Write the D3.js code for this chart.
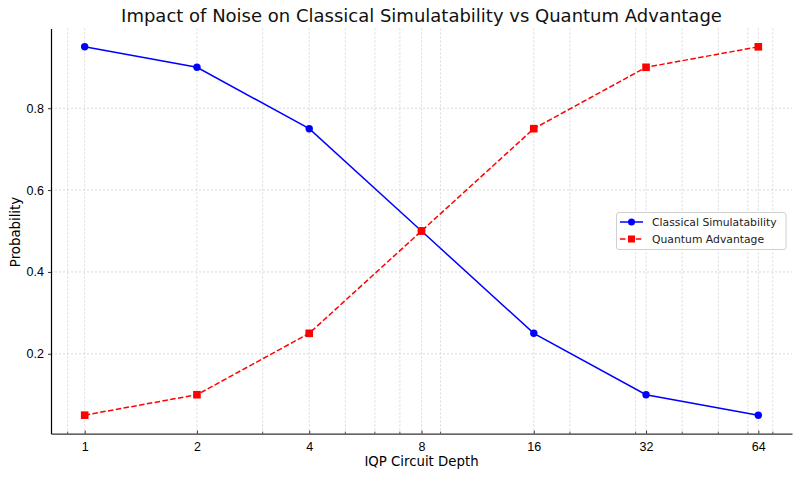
<!DOCTYPE html>
<html>
<head>
<meta charset="utf-8">
<script src="https://cdn.jsdelivr.net/npm/d3@7"></script>
<style>
body { margin: 0; background: #fff; }
svg { font-family: "DejaVu Sans", sans-serif; }
</style>
</head>
<body>
<svg id="chart" width="800" height="477"></svg>
<script>
const depths = [1, 2, 4, 8, 16, 32, 64];
const classical = [0.95, 0.90, 0.75, 0.50, 0.25, 0.10, 0.05];
const quantum = [0.05, 0.10, 0.25, 0.50, 0.75, 0.90, 0.95];
const xTickLabels = ["1", "2", "4", "8", "16", "32", "64"];
const yTicks = [0.2, 0.4, 0.6, 0.8];
const minorX = [0.9, 3, 5, 6, 7, 9, 20, 30, 40, 50, 60, 70];
const seriesNames = ["Classical Simulatability", "Quantum Advantage"];

const svg = d3.select("#chart");
const L = 51, R = 792, T = 28.4, B = 433.6;

const x = d3.scaleLog().domain([Math.pow(10, -0.0903), Math.pow(10, 1.8965)]).range([L, R]);
const y = d3.scaleLinear().domain([0.005, 0.995]).range([B, T]);

const grid = svg.append("g");
grid.selectAll("line.vx").data(depths.concat(minorX)).enter().append("line")
  .attr("x1", d => x(d)).attr("x2", d => x(d))
  .attr("y1", T).attr("y2", B)
  .attr("stroke", "#cfcfcf").attr("stroke-width", 0.8).attr("stroke-dasharray", "2,2");
grid.selectAll("line.hy").data(yTicks).enter().append("line")
  .attr("x1", L).attr("x2", R)
  .attr("y1", d => y(d)).attr("y2", d => y(d))
  .attr("stroke", "#cfcfcf").attr("stroke-width", 0.8).attr("stroke-dasharray", "2,2");

// x axis
const xAxis = d3.axisBottom(x).tickValues(depths).tickFormat((d, i) => xTickLabels[i]).tickSizeInner(-3).tickSizeOuter(0).tickPadding(9);
const gx = svg.append("g").attr("transform", `translate(0,${B})`).call(xAxis);
gx.select(".domain").attr("stroke", "#333").attr("stroke-width", 1.2);
gx.selectAll(".tick line").attr("stroke", "#333");
gx.selectAll("text").attr("font-size", 12.5).attr("fill", "#000");
gx.selectAll("line.minor").data(minorX).enter().append("line")
  .attr("class", "minor")
  .attr("x1", d => x(d)).attr("x2", d => x(d)).attr("y1", 0).attr("y2", -2)
  .attr("stroke", "#333").attr("stroke-width", 0.8);

// y axis
const yAxis = d3.axisLeft(y).tickValues(yTicks).tickFormat(d3.format(".1f")).tickSizeInner(3).tickSizeOuter(0).tickPadding(4);
const gy = svg.append("g").attr("transform", `translate(${L},0)`).call(yAxis);
gy.select(".domain").attr("stroke", "#000").attr("stroke-width", 1.2);
gy.selectAll(".tick line").attr("stroke", "#333");
gy.selectAll("text").attr("font-size", 12.5).attr("fill", "#000");

// labels
svg.append("text").attr("x", 421.5).attr("y", 22).attr("text-anchor", "middle")
  .attr("font-size", 18).attr("fill", "#111").text("Impact of Noise on Classical Simulatability vs Quantum Advantage");
svg.append("text").attr("x", 421.5).attr("y", 466).attr("text-anchor", "middle")
  .attr("font-size", 13.3).attr("fill", "#000").text("IQP Circuit Depth");
svg.append("text").attr("transform", "translate(20,232) rotate(-90)").attr("text-anchor", "middle")
  .attr("font-size", 13.3).attr("fill", "#000").text("Probability");

// lines
const line = d3.line().x(d => x(d[0])).y(d => y(d[1]));
const cData = depths.map((d, i) => [d, classical[i]]);
const qData = depths.map((d, i) => [d, quantum[i]]);

svg.append("path").datum(cData).attr("d", line).attr("fill", "none").attr("stroke", "#0000ff").attr("stroke-width", 1.5);
svg.selectAll("circle.c").data(cData).enter().append("circle")
  .attr("cx", d => x(d[0])).attr("cy", d => y(d[1])).attr("r", 3.7).attr("fill", "#0000ff");

svg.append("path").datum(qData).attr("d", line).attr("fill", "none").attr("stroke", "#ff0000").attr("stroke-width", 1.5).attr("stroke-dasharray", "5.5,2.4");
svg.selectAll("rect.q").data(qData).enter().append("rect")
  .attr("x", d => x(d[0]) - 3.8).attr("y", d => y(d[1]) - 3.8).attr("width", 7.6).attr("height", 7.6).attr("fill", "#ff0000");

// legend
const lg = svg.append("g");
lg.append("rect").attr("x", 616.5).attr("y", 212.5).attr("width", 169.5).attr("height", 37).attr("rx", 2.5)
  .attr("fill", "#fff").attr("fill-opacity", 0.8).attr("stroke", "#d0d0d0").attr("stroke-width", 1);
const legendRows = [
  {name: seriesNames[0], color: "#0000ff", dash: null, marker: "circle", yy: 222},
  {name: seriesNames[1], color: "#ff0000", dash: "5.5,2.4", marker: "square", yy: 239}
];
legendRows.forEach(r => {
  lg.append("line").attr("x1", 620).attr("x2", 643).attr("y1", r.yy).attr("y2", r.yy)
    .attr("stroke", r.color).attr("stroke-width", 1.5).attr("stroke-dasharray", r.dash);
  if (r.marker === "circle") {
    lg.append("circle").attr("cx", 631.5).attr("cy", r.yy).attr("r", 3.5).attr("fill", r.color);
  } else {
    lg.append("rect").attr("x", 628).attr("y", r.yy - 3.5).attr("width", 7).attr("height", 7).attr("fill", r.color);
  }
  lg.append("text").attr("x", 652).attr("y", r.yy + 4).attr("font-size", 10.8).attr("fill", "#222").text(r.name);
});
</script>
</body>
</html>
